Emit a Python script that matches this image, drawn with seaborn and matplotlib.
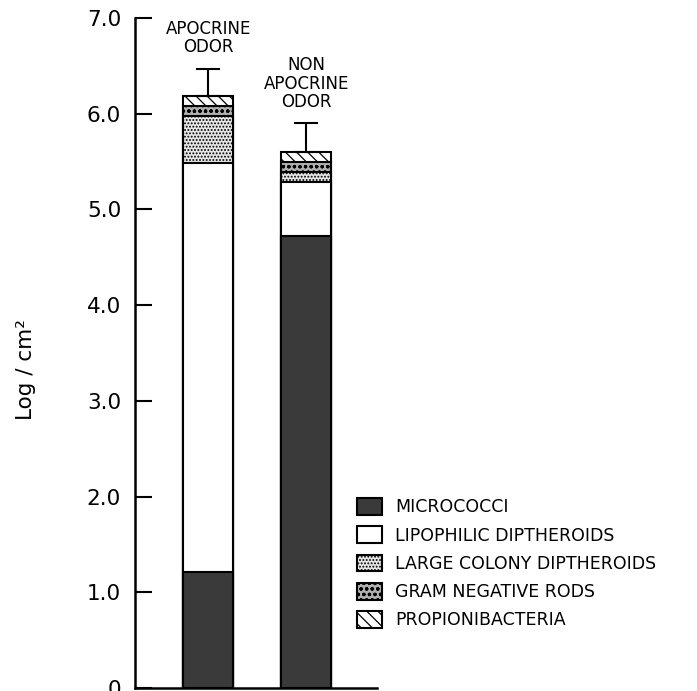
import matplotlib
matplotlib.use("Agg")
import matplotlib.pyplot as plt
from matplotlib.patches import Patch
import seaborn as sns
import pandas as pd
import numpy as np

# ---- data ----
groups = ["APOCRINE\nODOR", "NON\nAPOCRINE\nODOR"]
micrococci = [1.21, 4.72]
lipophilic = [4.27, 0.57]      # increments
large_colony = [0.50, 0.10]
gram_negative = [0.10, 0.11]
propioni = [0.11, 0.10]
err_upper = [0.28, 0.30]
categories = ["MICROCOCCI", "LIPOPHILIC DIPTHEROIDS", "LARGE COLONY DIPTHEROIDS",
              "GRAM NEGATIVE RODS", "PROPIONIBACTERIA"]
yticks = [0, 1, 2, 3, 4, 5, 6, 7]
ytick_labels = ["0", "1.0", "2.0", "3.0", "4.0", "5.0", "6.0", "7.0"]

sns.set_style("white")
plt.rcParams['font.family'] = ['DejaVu Sans']
plt.rcParams['text.color'] = 'black'
plt.rcParams['axes.labelcolor'] = 'black'
plt.rcParams['ytick.color'] = 'black'
plt.rcParams['hatch.linewidth'] = 0.9

layers = [micrococci, lipophilic, large_colony, gram_negative, propioni]
cum = np.cumsum(np.array(layers), axis=0)  # cumulative tops per layer

styles = [
    dict(color="#3a3a3a", hatch=None),
    dict(color="white", hatch=None),
    dict(color="#e6e6e6", hatch="....."),
    dict(color="#b0b0b0", hatch="ooo"),
    dict(color="white", hatch="\\\\\\"),
]

fig = plt.figure(figsize=(6.97, 6.91), dpi=100)
ax = fig.add_axes([135/697, 3/691, (377-135)/697, (688-18)/691])

xpos = [0, 1]
# draw from the top layer down so lower layers overwrite
for i in range(len(layers) - 1, -1, -1):
    df = pd.DataFrame({"x": xpos, "y": cum[i]})
    sns.barplot(data=df, x="x", y="y", order=xpos, ax=ax, width=0.51,
                color=styles[i]["color"], edgecolor="black", linewidth=1.5,
                hatch=styles[i]["hatch"], saturation=1, native_scale=True,
                errorbar=None)

totals = cum[-1]
ax.errorbar(xpos, totals, yerr=[np.zeros(2), err_upper], fmt="none",
            ecolor="black", elinewidth=1.5, capsize=8.3, capthick=1.5, zorder=5)

for x, t, e, g in zip(xpos, totals, err_upper, groups):
    ax.text(x, t + e + 0.13, g, ha="center", va="bottom", fontsize=12,
            linespacing=1.02, color="black")

ax.set_xlim(-0.745, 1.72)
ax.set_ylim(0, 7)
ax.set_yticks(yticks)
ax.set_yticklabels(ytick_labels, fontsize=15.5)
ax.set_xticks([])
ax.set_xlabel("")
ax.set_ylabel("Log / cm²", fontsize=15.5)
ax.yaxis.set_label_coords(-0.41, 0.475)
ax.tick_params(axis="y", direction="in", length=12, width=1.5, pad=10, left=True)
for s in ["top", "right"]:
    ax.spines[s].set_visible(False)
for s in ["left", "bottom"]:
    ax.spines[s].set_linewidth(1.8)
    ax.spines[s].set_color("black")

handles = [Patch(facecolor=styles[i]["color"], edgecolor="black",
                 hatch=styles[i]["hatch"], linewidth=1.5) for i in range(5)]
ax.legend(handles, categories, loc="upper left",
          bbox_to_anchor=(357/697, 1 - 498/691), bbox_transform=fig.transFigure,
          frameon=False, fontsize=12.5, handlelength=1.44, handleheight=1.1,
          labelspacing=0.58, handletextpad=0.75, borderpad=0, borderaxespad=0)

fig.savefig("out.png", dpi=100)
